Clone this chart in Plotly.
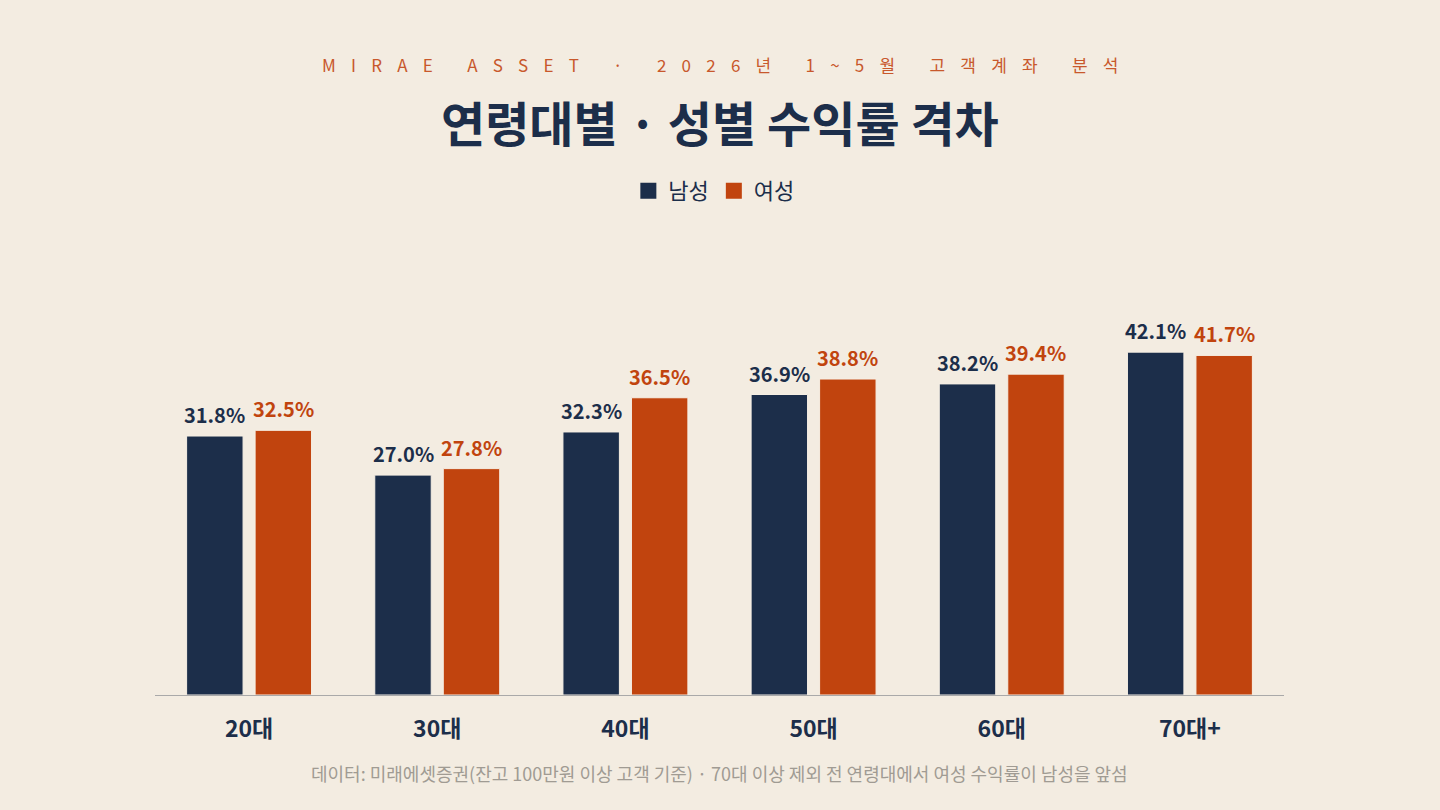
import plotly.graph_objects as go

categories = ["20대", "30대", "40대", "50대", "60대", "70대+"]
male = [31.8, 27.0, 32.3, 36.9, 38.2, 42.1]
female = [32.5, 27.8, 36.5, 38.8, 39.4, 41.7]
series_names = ["남성", "여성"]

BG = "#F3ECE1"
NAVY = "#1C2E4A"
ORANGE = "#C1440E"
FONT = "Noto Sans CJK KR"

W, H = 1440, 810
ML, MR, MT, MB = 155, 156, 230, 115
BAR_W = 0.3
GROUP_GAP = 0.032
cat_px = (W - ML - MR) / len(categories)
centre_shift = (GROUP_GAP + BAR_W / 2) * cat_px

fig = go.Figure()
series = [(male, NAVY, -GROUP_GAP - BAR_W, -1), (female, ORANGE, GROUP_GAP, 1)]
for (vals, col, off, sgn), nm in zip(series, series_names):
    fig.add_trace(go.Bar(
        x=categories, y=vals, name=nm, showlegend=False,
        marker=dict(color=col, line=dict(color="#F6EFE4", width=1)),
        width=BAR_W, offset=off,
        hovertemplate="%{x} " + nm + ": %{y:.1f}%<extra></extra>",
    ))
# legend entries (square markers)
for nm, col in zip(series_names, [NAVY, ORANGE]):
    fig.add_trace(go.Scatter(
        x=[None], y=[None], mode="markers", name=nm,
        marker=dict(symbol="square", size=20, color=col),
    ))

annotations = []
for (vals, col, off, sgn) in series:
    for c, v in zip(categories, vals):
        annotations.append(dict(
            x=c, y=v, xref="x", yref="y", text=f"{v:.1f}%", showarrow=False,
            xanchor="center", yanchor="bottom", xshift=sgn * centre_shift, yshift=5,
            font=dict(family=FONT, size=20, color=col, weight=600),
        ))

sub_raw = "MIRAE ASSET · 2026년 1~5월 고객계좌 분석"
GAP = "\u00a0" * 4
subtitle = GAP.join(ch if ch != " " else "\u00a0" for ch in sub_raw)

annotations += [
    dict(text=subtitle, xref="paper", yref="paper", x=0.5, y=1.0, yshift=MT - 64,
         xanchor="center", yanchor="middle", showarrow=False,
         font=dict(size=17, color="#C8582C", family=FONT)),
    dict(text="연령대별 · 성별 수익률 격차", xref="paper", yref="paper", x=0.5, y=1.0,
         yshift=MT - 121, xanchor="center", yanchor="middle", showarrow=False,
         font=dict(size=48, color=NAVY, family=FONT, weight=700)),
    dict(text="데이터: 미래에셋증권(잔고 100만원 이상 고객 기준) · 70대 이상 제외 전 연령대에서 여성 수익률이 남성을 앞섬",
         xref="paper", yref="paper", x=0.5, y=0, yshift=(H - MB) - 773,
         xanchor="center", yanchor="middle",
         showarrow=False, font=dict(size=18, color="#A09B93", family=FONT)),
]

fig.update_layout(
    width=W, height=H,
    paper_bgcolor=BG, plot_bgcolor=BG,
    font=dict(family=FONT, color=NAVY),
    margin=dict(l=ML, r=MR, t=MT, b=MB),
    barmode="group",
    showlegend=True,
    legend=dict(orientation="h", x=0.495, xanchor="center", y=1 - 191 / H, yanchor="middle",
                yref="container", font=dict(size=22, color=NAVY, family=FONT),
                itemsizing="trace", traceorder="normal", bgcolor="rgba(0,0,0,0)"),
    xaxis=dict(showgrid=False, showline=True, linecolor="#A9A9A9", linewidth=1,
               ticks="", tickfont=dict(size=23, color=NAVY, family=FONT, weight=600),
               ticklabelstandoff=13),
    yaxis=dict(visible=False, range=[0, 57.1], showgrid=False, zeroline=False),
    annotations=annotations,
)

fig.write_html("out.html", config={"displayModeBar": False},
               post_script="document.body.style.margin='0';document.body.style.overflow='hidden';")
